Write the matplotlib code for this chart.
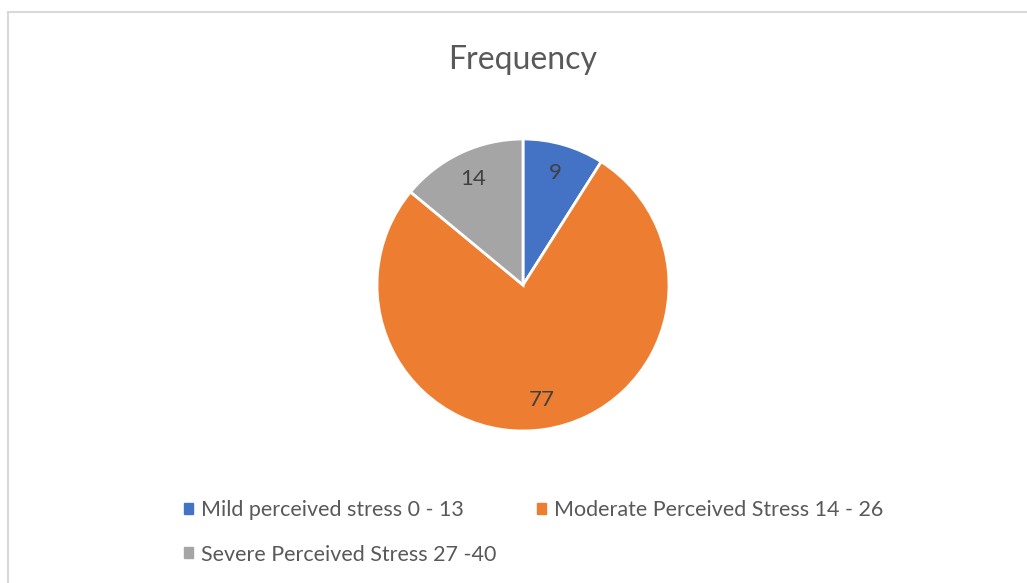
import matplotlib.pyplot as plt
from matplotlib.patches import Patch

labels = ['Mild perceived stress 0 - 13', 'Moderate Perceived Stress 14 - 26', 'Severe Perceived Stress 27 -40']
values = [9, 77, 14]
colors = ['#4472C4', '#ED7D31', '#A5A5A5']

plt.rcParams['font.family'] = ['Lato', 'DejaVu Sans']

W, H = 1027, 583
fig = plt.figure(figsize=(W / 100, H / 100), dpi=100)

# chart frame (only top/left edges visible in the crop)
fig.add_artist(plt.Line2D([8 / W, 8 / W], [0, 1 - 12 / H], color='#d9d9d9', lw=1.5))
fig.add_artist(plt.Line2D([8 / W, 1], [1 - 12 / H, 1 - 12 / H], color='#d9d9d9', lw=1.5))

cx, cy, r = 523, 285, 146
ax = fig.add_axes([(cx - r) / W, (H - cy - r) / H, 2 * r / W, 2 * r / H])
wedges, texts, autotexts = ax.pie(values, colors=colors, startangle=90, counterclock=False,
                                  autopct=lambda p: '%d' % round(p * sum(values) / 100),
                                  pctdistance=0.8,
                                  wedgeprops=dict(edgecolor='white', linewidth=2),
                                  textprops=dict(color='#404040', fontsize=16))
ax.set_xlim(-1, 1)
ax.set_ylim(-1, 1)
ax.set_aspect('equal')

fig.text(cx / W, 1 - 60 / H, 'Frequency', ha='center', va='center', fontsize=23, color='#595959')

handles = [Patch(color=c) for c in colors]
order = [0, 2, 1]
fig.legend([handles[i] for i in order], [labels[i] for i in order], ncol=2,
           loc='upper left', bbox_to_anchor=(173 / W, 1 - 489 / H), frameon=False, borderpad=0,
           fontsize=15.5, labelcolor='#595959', handlelength=0.42, handleheight=0.42,
           handletextpad=0.37, labelspacing=1.15, columnspacing=1.9)

fig.savefig('out.png', dpi=100, facecolor='white')
